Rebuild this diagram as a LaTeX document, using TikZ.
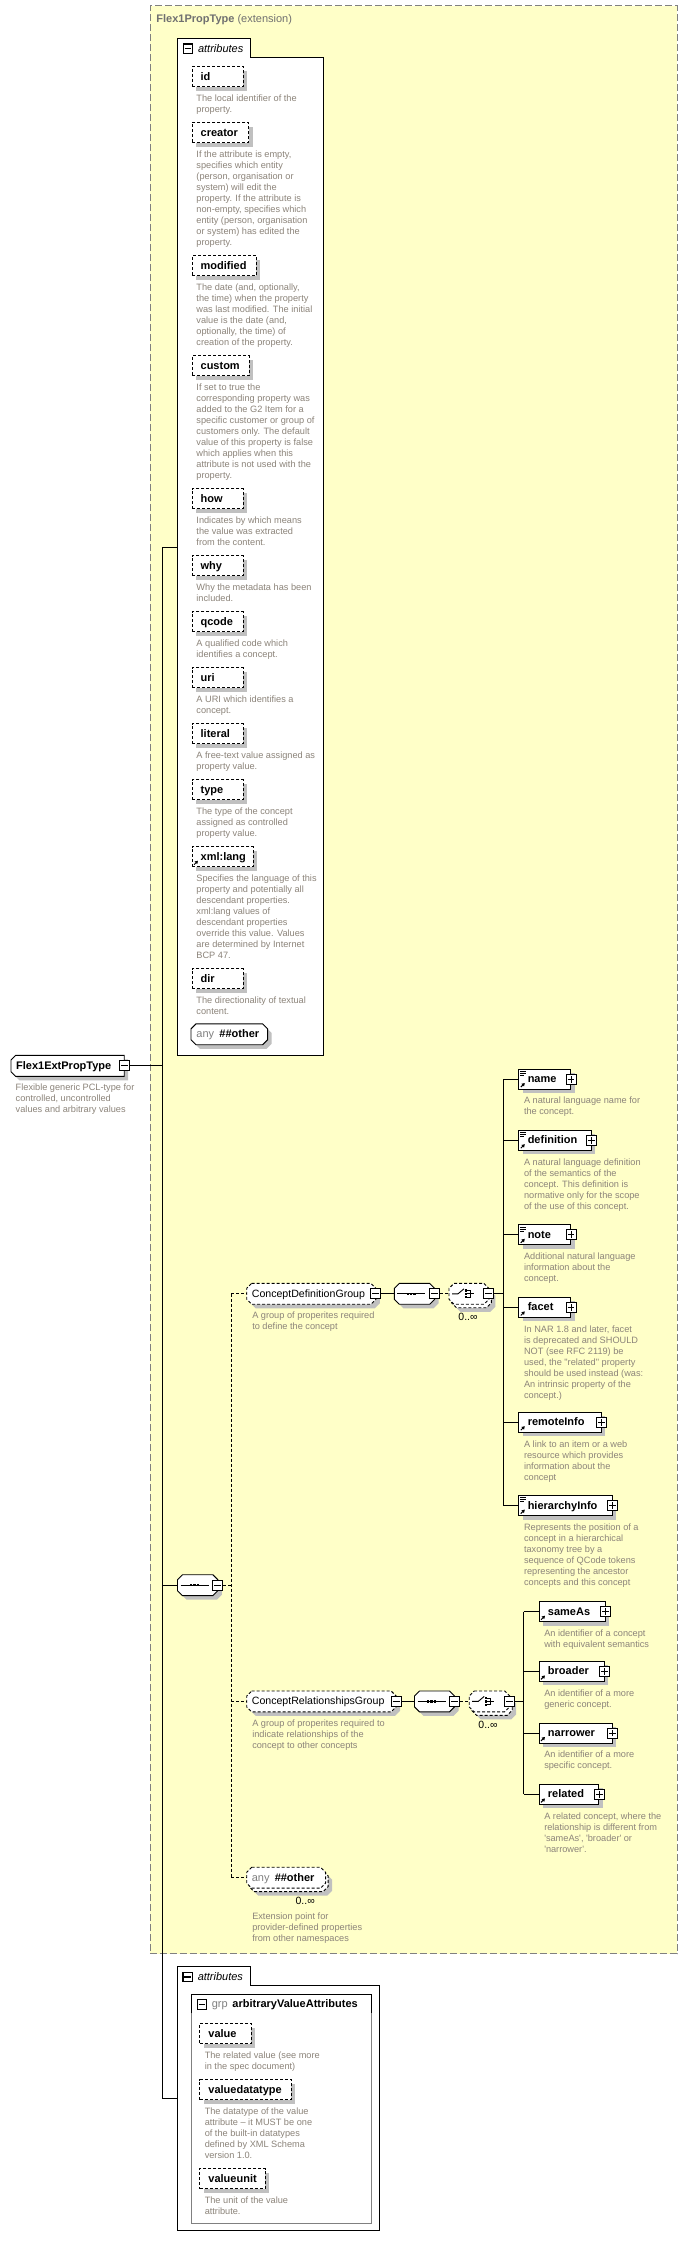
\documentclass[tikz,border=0pt]{standalone}
\usepackage{fontspec}
\setmainfont{Liberation Sans}[Ligatures=TeXOff]
\usetikzlibrary{shadows,calc,arrows.meta}
\definecolor{yellowbg}{RGB}{255,255,200}
\definecolor{shadowgray}{RGB}{192,192,192}
\definecolor{desctext}{RGB}{140,132,122}
\definecolor{framegray}{RGB}{128,128,128}
\definecolor{titlegray}{RGB}{112,112,112}
\tikzset{
  lbl/.style={font=\fontsize{11}{13}\selectfont\bfseries, inner sep=0pt, anchor=west, text height=8.6pt, text depth=1.8pt},
  rlbl/.style={font=\fontsize{10.6}{13}\selectfont, inner sep=0pt, anchor=west, text height=8.6pt, text depth=1.8pt},
  glbl/.style={font=\fontsize{11}{13}\selectfont, text=framegray, inner sep=0pt, anchor=west, text height=8.6pt, text depth=1.8pt},
  occ/.style={font=\fontsize{10.5}{12}\selectfont, inner sep=0pt},
  desc/.style={font=\fontsize{9.2}{11}\selectfont, text=desctext, align=left, inner sep=0pt, anchor=north west},
  shad/.style={drop shadow={shadow xshift=4pt, shadow yshift=-4pt, fill=shadowgray, opacity=1}},
  dashline/.style={dash pattern=on 3pt off 2pt},
  attrbox/.style={draw, dash pattern=on 3pt off 2pt, fill=white, minimum height=20pt, inner sep=0pt, anchor=north west, shad},
  elbox/.style={draw, fill=white, minimum height=20pt, inner sep=0pt, anchor=north west, shad},
  pm/.style={draw, fill=white, minimum size=10pt, inner sep=0pt},
  octbase/.style={inner sep=0pt, minimum height=20pt, anchor=west},
}
\newcommand\mkpm[3]{%
  \node[pm] (#1) at (#2) {};
  \draw ([xshift=2pt]#1.west) -- ([xshift=-2pt]#1.east);
  \ifnum#3=1 \draw ([yshift=2pt]#1.south) -- ([yshift=-2pt]#1.north);\fi
}
% octagon outline around node #1; #2 path options; #3 1 = left corners only; #4,#5 offset
\newcommand\octshape[5]{%
  \ifnum#3=1
    \path[#2] ($(#1.north west)+(4.5+#4,#5)$) -- ($(#1.north east)+(#4,#5)$) -- ($(#1.south east)+(#4,#5)$)
      -- ($(#1.south west)+(4.5+#4,#5)$) -- ($(#1.south west)+(#4,-4.5+#5)$) -- ($(#1.north west)+(#4,4.5+#5)$) -- cycle;
  \else
    \path[#2] ($(#1.north west)+(5+#4,#5)$) -- ($(#1.north east)+(-5+#4,#5)$) -- ($(#1.north east)+(#4,5+#5)$)
      -- ($(#1.south east)+(#4,-5+#5)$) -- ($(#1.south east)+(-5+#4,#5)$) -- ($(#1.south west)+(5+#4,#5)$)
      -- ($(#1.south west)+(#4,-5+#5)$) -- ($(#1.north west)+(#4,5+#5)$) -- cycle;
  \fi}
% #1 name, #2 left, #3 centre y, #4 width, #5 line style, #6 left-only, #7 stacked
\newcommand\mkoct[7]{%
  \node[octbase, minimum width={#4}] (#1) at (#2,#3) {};
  \ifnum#7=1
    \octshape{#1}{fill=shadowgray}{#6}{6.5}{7.5}
    \octshape{#1}{draw, fill=white, #5}{#6}{2.5}{3.5}
  \else
    \octshape{#1}{fill=shadowgray}{#6}{4}{4}
  \fi
  \octshape{#1}{draw, fill=white, #5}{#6}{0}{0}
}
\newcommand\mkdesc[4]{\node[desc] (#1) at ({#2},{#3+26.8}) {\rule{0pt}{8pt}#4};}
\newcommand\mkattr[5]{%
  \node[attrbox, minimum width={#4-#2}] (#1) at (#2,#3) {};
  \node[lbl] (#1lbl) at ($(#1.west)+(8.7,0)$) {#5};
}
\newcommand\mkdoc[1]{%
  \draw[line width=0.7pt] ($(#1.north west)+(2,2.5)$) -- +(6,0)
    ($(#1.north west)+(2,4.5)$) -- +(6,0)
    ($(#1.north west)+(2,6.5)$) -- +(4,0);}
\newcommand\mkref[1]{%
  \draw[line width=1pt, -{Triangle[length=3pt,width=3.5pt]}] ($(#1.south west)+(2.5,-2.5)$) -- +(4,-4);}
\newcommand\mkelem[7]{%
  \node[elbox, minimum width={#4-#2}] (#1) at (#2,#3) {};
  \node[lbl] (#1lbl) at ($(#1.west)+(9,0)$) {#5};
  \ifnum#6=1 \mkdoc{#1}\fi
  \mkref{#1}
  \mkpm{#1pm}{#1.east}{1}
  \mkdesc{#1d}{#2+5.3}{#3}{#7}
}
\newcommand\mktabminus[3]{%
  \node[draw, line width=1.3pt, fill=white, minimum width=9.5pt, minimum height=9.5pt, inner sep=0pt] (#1) at (#2,#3) {};
  \draw[line width=1.1pt] ([xshift=2pt]#1.west) -- ([xshift=-2pt]#1.east);
}
\newcommand\mkseqicon[1]{%
  \draw ($(#1.west)+(3,0)$) -- ($(#1.west)+(31,0)$);
  \fill ($(#1.west)+(12.2,-1.2)$) rectangle +(2.4,2.4);
  \fill ($(#1.west)+(15.6,-1.2)$) rectangle +(2.4,2.4);
  \fill ($(#1.west)+(19,-1.2)$) rectangle +(2.4,2.4);
}
\newcommand\mkchoiceicon[1]{%
  \draw ($(#1.west)+(3,0)$) -- ($(#1.west)+(9,0)$) -- ($(#1.west)+(15,-5)$);
  \fill ($(#1.west)+(15.5,-4.6)$) rectangle +(2.4,2.4);
  \fill ($(#1.west)+(15.5,-1.2)$) rectangle +(2.4,2.4);
  \fill ($(#1.west)+(15.5,2.2)$) rectangle +(2.4,2.4);
  \draw ($(#1.west)+(17.9,-3.4)$) -- ($(#1.west)+(21.5,-3.4)$) -- ($(#1.west)+(21.5,3.4)$) -- ($(#1.west)+(17.9,3.4)$);
  \draw ($(#1.west)+(17.9,0)$) -- ($(#1.west)+(25,0)$);
}
\begin{document}
\begin{tikzpicture}[x=1pt,y=-1pt,line width=0.9pt]
\useasboundingbox (0,0) rectangle (687,2248);
\fill[white] (0,0) rectangle (687,2248);

% extension container
\node[draw=framegray, dash pattern=on 7pt off 3pt, fill=yellowbg, minimum width=527pt, minimum height=1947.8pt, inner sep=0pt, anchor=north west] (ext) at (149.5,5.5) {};
\node[anchor=west, inner sep=0pt, font=\fontsize{11}{13}\selectfont, text=titlegray] (exttitle) at (156,20) {\textbf{Flex1PropType} (extension)};

% attributes box 1
\draw[fill=white] (177.3,1055.7) -- (177.3,38.3) -- (250.3,38.3) -- (250.3,57.3) -- (323.5,57.3) -- (323.5,1055.7) -- cycle;
\coordinate (attrA) at (177.3,547.7);
\mktabminus{tabA}{188}{48.8}
\node[anchor=west, inner sep=0pt, font=\fontsize{11}{13}\selectfont\itshape] (tabAlbl) at (197.6,48.3) {attributes};

\mkattr{aid}{191.5}{66.3}{243}{id}
\mkdesc{aidd}{196}{66.3}{The local identifier of the\\property.}
\mkattr{acreator}{191.5}{122.3}{248.2}{creator}
\mkdesc{acreatord}{196}{122.3}{If the attribute is empty,\\specifies which entity\\(person, organisation or\\system) will edit the\\property. If the attribute is\\non-empty, specifies which\\entity (person, organisation\\or system) has edited the\\property.}
\mkattr{amodified}{191.5}{255.3}{255.8}{modified}
\mkdesc{amodifiedd}{196}{255.3}{The date (and, optionally,\\the time) when the property\\was last modified. The initial\\value is the date (and,\\optionally, the time) of\\creation of the property.}
\mkattr{acustom}{191.5}{355.3}{248.5}{custom}
\mkdesc{acustomd}{196}{355.3}{If set to true the\\corresponding property was\\added to the G2 Item for a\\specific customer or group of\\customers only. The default\\value of this property is false\\which applies when this\\attribute is not used with the\\property.}
\mkattr{ahow}{191.5}{488.3}{242.7}{how}
\mkdesc{ahowd}{196}{488.3}{Indicates by which means\\the value was extracted\\from the content.}
\mkattr{awhy}{191.5}{555.3}{242.7}{why}
\mkdesc{awhyd}{196}{555.3}{Why the metadata has been\\included.}
\mkattr{aqcode}{191.5}{611.3}{242.7}{qcode}
\mkdesc{aqcoded}{196}{611.3}{A qualified code which\\identifies a concept.}
\mkattr{auri}{191.5}{667.3}{242.7}{uri}
\mkdesc{aurid}{196}{667.3}{A URI which identifies a\\concept.}
\mkattr{aliteral}{191.5}{723.3}{242.7}{literal}
\mkdesc{aliterald}{196}{723.3}{A free-text value assigned as\\property value.}
\mkattr{atype}{191.5}{779.3}{242.7}{type}
\mkdesc{atyped}{196}{779.3}{The type of the concept\\assigned as controlled\\property value.}
\mkattr{axmllang}{191.5}{846.3}{252.7}{xml:lang}
\mkref{axmllang}
\mkdesc{axmllangd}{196}{846.3}{Specifies the language of this\\property and potentially all\\descendant properties.\\xml:lang values of\\descendant properties\\override this value. Values\\are determined by Internet\\BCP 47.}
\mkattr{adir}{191.5}{968.3}{242.7}{dir}
\mkdesc{adird}{196}{968.3}{The directionality of textual\\content.}
\mkoct{aany}{191}{1034.3}{75.7}{solid}{0}{0}
\node[glbl] (aanylbl1) at (196,1034.3) {any};
\node[lbl] (aanylbl2) at (219,1034.3) {\#\#other};

% root type
\mkoct{flex}{11}{1065.85}{112.3}{solid}{1}{0}
\node[lbl] (flexlbl) at (15.7,1065.85) {Flex1ExtPropType};
\mkpm{flexpm}{flex.east}{0}
\mkdesc{flexd}{15.3}{1055.7}{Flexible generic PCL-type for\\controlled, uncontrolled\\values and arbitrary values}

% main sequence
\mkoct{mseq}{177.5}{1585.2}{39.5}{solid}{0}{0}
\mkseqicon{mseq}
\mkpm{mseqpm}{mseq.east}{0}

% group 1
\mkoct{cdg}{246.7}{1293.8}{128.3}{dashline}{0}{0}
\node[rlbl] (cdglbl) at (251.4,1293.8) {ConceptDefinitionGroup};
\mkpm{cdgpm}{cdg.east}{0}
\mkdesc{cdgd}{251.8}{1283.6}{A group of properites required\\to define the concept}
\mkoct{seqA}{394.3}{1293.8}{39.5}{solid}{0}{0}
\mkseqicon{seqA}
\mkpm{seqApm}{seqA.east}{0}
\mkoct{chA}{449}{1293.8}{39}{dashline}{0}{1}
\mkchoiceicon{chA}
\mkpm{chApm}{chA.east}{0}
\node[occ] (chAocc) at (468,1317) {0..∞};

\mkelem{ename}{518.3}{1068.6}{570.1}{name}{1}{A natural language name for\\the concept.}
\mkelem{edef}{518.3}{1129.8}{590.8}{definition}{1}{A natural language definition\\of the semantics of the\\concept. This definition is\\normative only for the scope\\of the use of this concept.}
\mkelem{enote}{518.3}{1224.4}{570.1}{note}{1}{Additional natural language\\information about the\\concept.}
\mkelem{efacet}{518.3}{1297}{570.1}{facet}{0}{In NAR 1.8 and later, facet\\is deprecated and SHOULD\\NOT (see RFC 2119) be\\used, the "related" property\\should be used instead (was:\\An intrinsic property of the\\concept.)}
\mkelem{eremote}{518.3}{1411.8}{600.9}{remoteInfo}{0}{A link to an item or a web\\resource which provides\\information about the\\concept}
\mkelem{ehier}{518.3}{1495.2}{612}{hierarchyInfo}{1}{Represents the position of a\\concept in a hierarchical\\taxonomy tree by a\\sequence of QCode tokens\\representing the ancestor\\concepts and this concept}

% group 2
\mkoct{crg}{246.7}{1701.4}{148.5}{dashline}{0}{0}
\node[rlbl] (crglbl) at (251.4,1701.4) {ConceptRelationshipsGroup};
\mkpm{crgpm}{crg.east}{0}
\mkdesc{crgd}{251.8}{1691.1}{A group of properites required to\\indicate relationships of the\\concept to other concepts}
\mkoct{seqB}{414.5}{1701.4}{39.1}{solid}{0}{0}
\mkseqicon{seqB}
\mkpm{seqBpm}{seqB.east}{0}
\mkoct{chB}{469.2}{1701.4}{39.6}{dashline}{0}{1}
\mkchoiceicon{chB}
\mkpm{chBpm}{chB.east}{0}
\node[occ] (chBocc) at (488,1725.2) {0..∞};

\mkelem{esame}{538.5}{1601.3}{604.7}{sameAs}{0}{An identifier of a concept\\with equivalent semantics}
\mkelem{ebroad}{538.5}{1661}{603.7}{broader}{0}{An identifier of a more\\generic concept.}
\mkelem{enarrow}{538.5}{1722.5}{612}{narrower}{0}{An identifier of a more\\specific concept.}
\mkelem{erel}{538.5}{1784}{598.2}{related}{0}{A related concept, where the\\relationship is different from\\'sameAs', 'broader' or\\'narrower'.}

% any ##other element
\mkoct{anyel}{246.7}{1877.7}{78}{dashline}{0}{1}
\node[glbl] (anyellbl1) at (251.4,1877.7) {any};
\node[lbl] (anyellbl2) at (274.3,1877.7) {\#\#other};
\node[occ] (anyelocc) at (305.2,1901.3) {0..∞};
\mkdesc{anyeld}{251.8}{1884.7}{Extension point for\\provider-defined properties\\from other namespaces}

% attributes box 2
\draw[fill=white] (177.3,2230) -- (177.3,1966) -- (250.3,1966) -- (250.3,1985.3) -- (379.3,1985.3) -- (379.3,2230) -- cycle;
\coordinate (attrB) at (177.3,2098.3);
\mktabminus{tabB}{187.8}{1977}
\node[anchor=west, inner sep=0pt, font=\fontsize{11}{13}\selectfont\itshape] (tabBlbl) at (197.3,1976.5) {attributes};
\draw[framegray] (191,1994.3) rectangle (371.3,2223.3);
\draw (191,2013.3) -- (191,1994.3) -- (371.3,1994.3) -- (371.3,2013.3);
\mktabminus{grpminus}{202}{2004.5}
\node[glbl] (grplbl1) at (211.3,2004.3) {grp};
\node[lbl] (grplbl2) at (232,2004.3) {arbitraryValueAttributes};
\mkattr{bvalue}{199.3}{2023.3}{251}{value}
\mkdesc{bvalued}{204.3}{2023.3}{The related value (see more\\in the spec document)}
\mkattr{bvdt}{199.3}{2079.3}{290.7}{valuedatatype}
\mkdesc{bvdtd}{204.3}{2079.3}{The datatype of the value\\attribute – it MUST be one\\of the built-in datatypes\\defined by XML Schema\\version 1.0.}
\mkattr{bvu}{199.3}{2168.3}{265}{valueunit}
\mkdesc{bvud}{204.3}{2168.3}{The unit of the value\\attribute.}

% connectors: root
\coordinate (trunk) at (162.3,1065.85);
\draw (flexpm.east) -- (trunk);
\draw (attrA -| trunk) -- (attrB -| trunk);
\draw (attrA -| trunk) -- (attrA);
\draw (mseq.west -| trunk) -- (mseq.west);
\draw (attrB -| trunk) -- (attrB);

% connectors: main sequence
\coordinate (gx) at (231.3,1585.2);
\draw[dashline] (mseqpm.east) -- (gx);
\draw[dashline] (cdg.west -| gx) -- (anyel.west -| gx);
\draw[dashline] (cdg.west -| gx) -- (cdg.west);
\draw[dashline] (crg.west -| gx) -- (crg.west);
\draw[dashline] (anyel.west -| gx) -- (anyel.west);

% connectors: group 1
\draw (cdgpm.east) -- (seqA.west);
\draw[dashline] (seqApm.east) -- (chA.west);
\coordinate (vA) at (503.5,1293.8);
\draw (chApm.east) -- (vA);
\draw (ename.west -| vA) -- (ehier.west -| vA);
\foreach \n in {ename,edef,enote,efacet,eremote,ehier} \draw (\n.west -| vA) -- (\n.west);

% connectors: group 2
\draw (crgpm.east) -- (seqB.west);
\draw[dashline] (seqBpm.east) -- (chB.west);
\coordinate (vB) at (523.7,1701.4);
\draw (chBpm.east) -- (vB);
\draw (esame.west -| vB) -- (erel.west -| vB);
\foreach \n in {esame,ebroad,enarrow,erel} \draw (\n.west -| vB) -- (\n.west);
\end{tikzpicture}
\end{document}
